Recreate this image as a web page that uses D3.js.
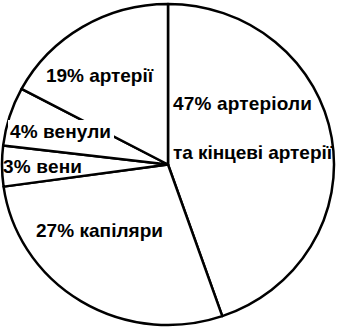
<!DOCTYPE html>
<html>
<head>
<meta charset="utf-8">
<script src="https://cdn.jsdelivr.net/npm/d3@7"></script>
<style>
  html, body { margin: 0; padding: 0; background: #fff; }
  svg { display: block; }
  text { font-family: "Liberation Sans", Arial, sans-serif; font-weight: bold; font-size: 19px; fill: #000; }
</style>
</head>
<body>
<div id="chart"></div>
<script>
// slice shares as drawn (clockwise from 12 o'clock)
const categories = ["артеріоли та кінцеві артерії", "капіляри", "вени", "венули", "артерії"];
const shares = [44.7, 28.1, 4.1, 5.9, 17.2];
const labelLines = [
    ["47% артеріоли", "та кінцеві артерії"],
    ["27% капіляри"],
    ["3% вени"],
    ["4% венули"],
    ["19% артерії"]
];

const width = 337;
const height = 328;
const cx = 168, cy = 164.5;
const rx = 166, ry = 160.5;

// where each label sits (left x, first baseline y), line spacing, width of each line
const labelLayout = [
    { x: 173, y: 110, dy: 49, box: false, widths: [139, 159] },
    { x: 36, y: 237, dy: 0, box: false, widths: [127] },
    { x: 3, y: 173, dy: 0, box: false, widths: [79] },
    { x: 10, y: 138, dy: 0, box: true, widths: [101] },
    { x: 46, y: 82, dy: 0, box: false, widths: [107] }
];

const svg = d3.select("#chart").append("svg")
    .attr("width", width)
    .attr("height", height);

const pie = d3.pie().sort(null).value(d => d)(shares);
const arc = d3.arc().innerRadius(0).outerRadius(ry);

const pieGroup = svg.append("g")
    .attr("transform", `translate(${cx},${cy}) scale(${rx / ry},1)`);

pieGroup.selectAll("path")
    .data(pie)
    .enter()
    .append("path")
    .attr("d", arc)
    .attr("fill", "#fff")
    .attr("stroke", "#000")
    .attr("stroke-width", 2.5)
    .attr("stroke-linejoin", "round")
    .attr("vector-effect", "non-scaling-stroke");

const labels = svg.append("g");

labelLines.forEach((lines, i) => {
    const pos = labelLayout[i];
    const g = labels.append("g");
    const t = g.append("text")
        .attr("x", pos.x)
        .attr("y", pos.y);
    lines.forEach((line, j) => {
        t.append("tspan")
            .attr("x", pos.x)
            .attr("y", pos.y + j * pos.dy)
            .attr("textLength", pos.widths[j])
            .attr("lengthAdjust", "spacing")
            .text(line);
    });
    if (pos.box) {
        const bb = t.node().getBBox();
        g.insert("rect", "text")
            .attr("x", bb.x - 2)
            .attr("y", bb.y - 1)
            .attr("width", bb.width + 5)
            .attr("height", bb.height + 2)
            .attr("fill", "#fff");
    }
});
</script>
</body>
</html>
